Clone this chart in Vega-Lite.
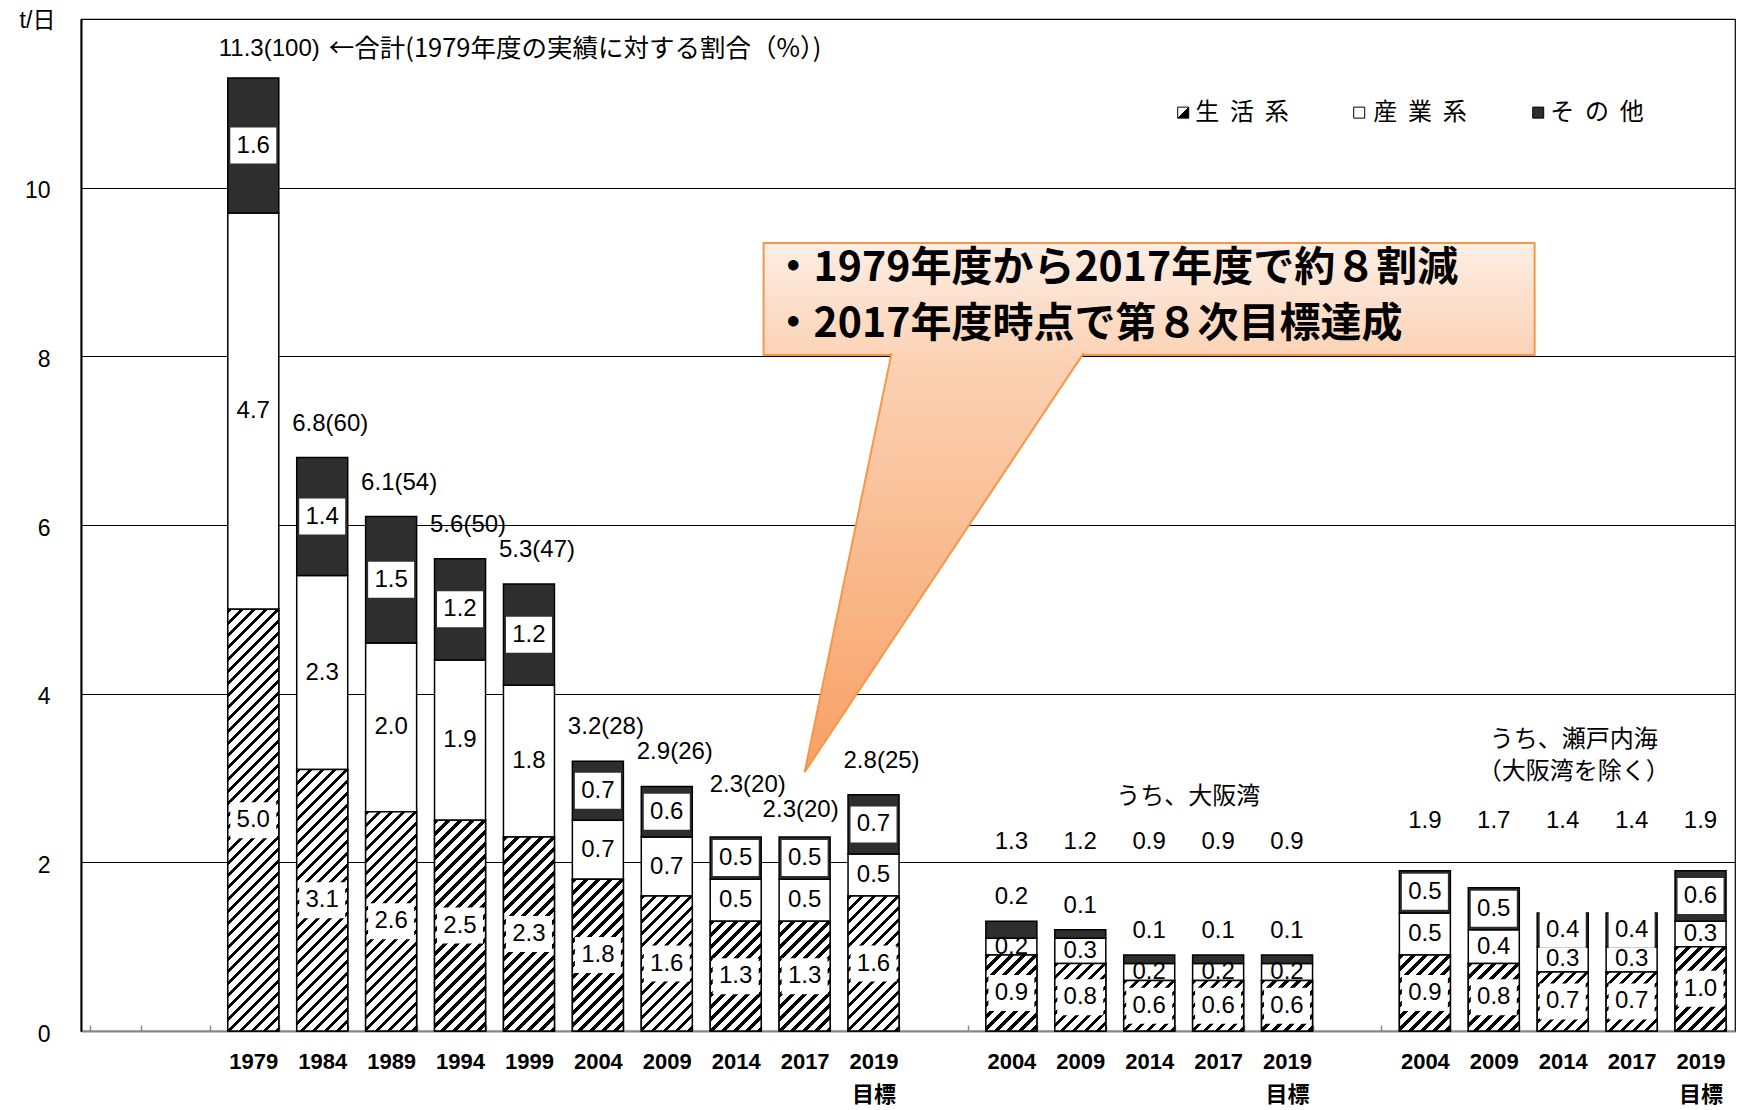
{
 "$schema": "https://vega.github.io/schema/vega-lite/v6.json",
 "width": 1654,
 "height": 1012,
 "autosize": {"type": "none"},
 "padding": {"left": 81, "top": 19, "right": 2, "bottom": 79},
 "background": "#ffffff",
 "config": {"view": {"stroke": "#000000", "strokeWidth": 1.2}},
 "params": [{"name": "hatch", "value": [
  {"offset":0,"color":"#000"},{"offset":0.0095,"color":"#000"},{"offset":0.0095,"color":"#fff"},{"offset":0.025,"color":"#fff"},
  {"offset":0.025,"color":"#000"},{"offset":0.0345,"color":"#000"},{"offset":0.0345,"color":"#fff"},{"offset":0.05,"color":"#fff"},
  {"offset":0.05,"color":"#000"},{"offset":0.0595,"color":"#000"},{"offset":0.0595,"color":"#fff"},{"offset":0.075,"color":"#fff"},
  {"offset":0.075,"color":"#000"},{"offset":0.0845,"color":"#000"},{"offset":0.0845,"color":"#fff"},{"offset":0.1,"color":"#fff"},
  {"offset":0.1,"color":"#000"},{"offset":0.1095,"color":"#000"},{"offset":0.1095,"color":"#fff"},{"offset":0.125,"color":"#fff"},
  {"offset":0.125,"color":"#000"},{"offset":0.1345,"color":"#000"},{"offset":0.1345,"color":"#fff"},{"offset":0.15,"color":"#fff"},
  {"offset":0.15,"color":"#000"},{"offset":0.1595,"color":"#000"},{"offset":0.1595,"color":"#fff"},{"offset":0.175,"color":"#fff"},
  {"offset":0.175,"color":"#000"},{"offset":0.1845,"color":"#000"},{"offset":0.1845,"color":"#fff"},{"offset":0.2,"color":"#fff"},
  {"offset":0.2,"color":"#000"},{"offset":0.2095,"color":"#000"},{"offset":0.2095,"color":"#fff"},{"offset":0.225,"color":"#fff"},
  {"offset":0.225,"color":"#000"},{"offset":0.2345,"color":"#000"},{"offset":0.2345,"color":"#fff"},{"offset":0.25,"color":"#fff"},
  {"offset":0.25,"color":"#000"},{"offset":0.2595,"color":"#000"},{"offset":0.2595,"color":"#fff"},{"offset":0.275,"color":"#fff"},
  {"offset":0.275,"color":"#000"},{"offset":0.2845,"color":"#000"},{"offset":0.2845,"color":"#fff"},{"offset":0.3,"color":"#fff"},
  {"offset":0.3,"color":"#000"},{"offset":0.3095,"color":"#000"},{"offset":0.3095,"color":"#fff"},{"offset":0.325,"color":"#fff"},
  {"offset":0.325,"color":"#000"},{"offset":0.3345,"color":"#000"},{"offset":0.3345,"color":"#fff"},{"offset":0.35,"color":"#fff"},
  {"offset":0.35,"color":"#000"},{"offset":0.3595,"color":"#000"},{"offset":0.3595,"color":"#fff"},{"offset":0.375,"color":"#fff"},
  {"offset":0.375,"color":"#000"},{"offset":0.3845,"color":"#000"},{"offset":0.3845,"color":"#fff"},{"offset":0.4,"color":"#fff"},
  {"offset":0.4,"color":"#000"},{"offset":0.4095,"color":"#000"},{"offset":0.4095,"color":"#fff"},{"offset":0.425,"color":"#fff"},
  {"offset":0.425,"color":"#000"},{"offset":0.4345,"color":"#000"},{"offset":0.4345,"color":"#fff"},{"offset":0.45,"color":"#fff"},
  {"offset":0.45,"color":"#000"},{"offset":0.4595,"color":"#000"},{"offset":0.4595,"color":"#fff"},{"offset":0.475,"color":"#fff"},
  {"offset":0.475,"color":"#000"},{"offset":0.4845,"color":"#000"},{"offset":0.4845,"color":"#fff"},{"offset":0.5,"color":"#fff"},
  {"offset":0.5,"color":"#000"},{"offset":0.5095,"color":"#000"},{"offset":0.5095,"color":"#fff"},{"offset":0.525,"color":"#fff"},
  {"offset":0.525,"color":"#000"},{"offset":0.5345,"color":"#000"},{"offset":0.5345,"color":"#fff"},{"offset":0.55,"color":"#fff"},
  {"offset":0.55,"color":"#000"},{"offset":0.5595,"color":"#000"},{"offset":0.5595,"color":"#fff"},{"offset":0.575,"color":"#fff"},
  {"offset":0.575,"color":"#000"},{"offset":0.5845,"color":"#000"},{"offset":0.5845,"color":"#fff"},{"offset":0.6,"color":"#fff"},
  {"offset":0.6,"color":"#000"},{"offset":0.6095,"color":"#000"},{"offset":0.6095,"color":"#fff"},{"offset":0.625,"color":"#fff"},
  {"offset":0.625,"color":"#000"},{"offset":0.6345,"color":"#000"},{"offset":0.6345,"color":"#fff"},{"offset":0.65,"color":"#fff"},
  {"offset":0.65,"color":"#000"},{"offset":0.6595,"color":"#000"},{"offset":0.6595,"color":"#fff"},{"offset":0.675,"color":"#fff"},
  {"offset":0.675,"color":"#000"},{"offset":0.6845,"color":"#000"},{"offset":0.6845,"color":"#fff"},{"offset":0.7,"color":"#fff"},
  {"offset":0.7,"color":"#000"},{"offset":0.7095,"color":"#000"},{"offset":0.7095,"color":"#fff"},{"offset":0.725,"color":"#fff"},
  {"offset":0.725,"color":"#000"},{"offset":0.7345,"color":"#000"},{"offset":0.7345,"color":"#fff"},{"offset":0.75,"color":"#fff"},
  {"offset":0.75,"color":"#000"},{"offset":0.7595,"color":"#000"},{"offset":0.7595,"color":"#fff"},{"offset":0.775,"color":"#fff"},
  {"offset":0.775,"color":"#000"},{"offset":0.7845,"color":"#000"},{"offset":0.7845,"color":"#fff"},{"offset":0.8,"color":"#fff"},
  {"offset":0.8,"color":"#000"},{"offset":0.8095,"color":"#000"},{"offset":0.8095,"color":"#fff"},{"offset":0.825,"color":"#fff"},
  {"offset":0.825,"color":"#000"},{"offset":0.8345,"color":"#000"},{"offset":0.8345,"color":"#fff"},{"offset":0.85,"color":"#fff"},
  {"offset":0.85,"color":"#000"},{"offset":0.8595,"color":"#000"},{"offset":0.8595,"color":"#fff"},{"offset":0.875,"color":"#fff"},
  {"offset":0.875,"color":"#000"},{"offset":0.8845,"color":"#000"},{"offset":0.8845,"color":"#fff"},{"offset":0.9,"color":"#fff"},
  {"offset":0.9,"color":"#000"},{"offset":0.9095,"color":"#000"},{"offset":0.9095,"color":"#fff"},{"offset":0.925,"color":"#fff"},
  {"offset":0.925,"color":"#000"},{"offset":0.9345,"color":"#000"},{"offset":0.9345,"color":"#fff"},{"offset":0.95,"color":"#fff"},
  {"offset":0.95,"color":"#000"},{"offset":0.9595,"color":"#000"},{"offset":0.9595,"color":"#fff"},{"offset":0.975,"color":"#fff"},
  {"offset":0.975,"color":"#000"},{"offset":0.9845,"color":"#000"},{"offset":0.9845,"color":"#fff"},{"offset":1,"color":"#fff"}
 ]}],
 "datasets": {
  "seg": [
   {"grp":"全体","slot":"全体1979","cat":"生活系","ord":1,"v":5.0},{"grp":"全体","slot":"全体1979","cat":"産業系","ord":2,"v":4.7},{"grp":"全体","slot":"全体1979","cat":"その他","ord":3,"v":1.6},
   {"grp":"全体","slot":"全体1984","cat":"生活系","ord":1,"v":3.1},{"grp":"全体","slot":"全体1984","cat":"産業系","ord":2,"v":2.3},{"grp":"全体","slot":"全体1984","cat":"その他","ord":3,"v":1.4},
   {"grp":"全体","slot":"全体1989","cat":"生活系","ord":1,"v":2.6},{"grp":"全体","slot":"全体1989","cat":"産業系","ord":2,"v":2.0},{"grp":"全体","slot":"全体1989","cat":"その他","ord":3,"v":1.5},
   {"grp":"全体","slot":"全体1994","cat":"生活系","ord":1,"v":2.5},{"grp":"全体","slot":"全体1994","cat":"産業系","ord":2,"v":1.9},{"grp":"全体","slot":"全体1994","cat":"その他","ord":3,"v":1.2},
   {"grp":"全体","slot":"全体1999","cat":"生活系","ord":1,"v":2.3},{"grp":"全体","slot":"全体1999","cat":"産業系","ord":2,"v":1.8},{"grp":"全体","slot":"全体1999","cat":"その他","ord":3,"v":1.2},
   {"grp":"全体","slot":"全体2004","cat":"生活系","ord":1,"v":1.8},{"grp":"全体","slot":"全体2004","cat":"産業系","ord":2,"v":0.7},{"grp":"全体","slot":"全体2004","cat":"その他","ord":3,"v":0.7},
   {"grp":"全体","slot":"全体2009","cat":"生活系","ord":1,"v":1.6},{"grp":"全体","slot":"全体2009","cat":"産業系","ord":2,"v":0.7},{"grp":"全体","slot":"全体2009","cat":"その他","ord":3,"v":0.6},
   {"grp":"全体","slot":"全体2014","cat":"生活系","ord":1,"v":1.3},{"grp":"全体","slot":"全体2014","cat":"産業系","ord":2,"v":0.5},{"grp":"全体","slot":"全体2014","cat":"その他","ord":3,"v":0.5},
   {"grp":"全体","slot":"全体2017","cat":"生活系","ord":1,"v":1.3},{"grp":"全体","slot":"全体2017","cat":"産業系","ord":2,"v":0.5},{"grp":"全体","slot":"全体2017","cat":"その他","ord":3,"v":0.5},
   {"grp":"全体","slot":"全体2019","cat":"生活系","ord":1,"v":1.6},{"grp":"全体","slot":"全体2019","cat":"産業系","ord":2,"v":0.5},{"grp":"全体","slot":"全体2019","cat":"その他","ord":3,"v":0.7},
   {"grp":"大阪湾","slot":"大阪湾2004","cat":"生活系","ord":1,"v":0.9},{"grp":"大阪湾","slot":"大阪湾2004","cat":"産業系","ord":2,"v":0.2},{"grp":"大阪湾","slot":"大阪湾2004","cat":"その他","ord":3,"v":0.2},
   {"grp":"大阪湾","slot":"大阪湾2009","cat":"生活系","ord":1,"v":0.8},{"grp":"大阪湾","slot":"大阪湾2009","cat":"産業系","ord":2,"v":0.3},{"grp":"大阪湾","slot":"大阪湾2009","cat":"その他","ord":3,"v":0.1},
   {"grp":"大阪湾","slot":"大阪湾2014","cat":"生活系","ord":1,"v":0.6},{"grp":"大阪湾","slot":"大阪湾2014","cat":"産業系","ord":2,"v":0.2},{"grp":"大阪湾","slot":"大阪湾2014","cat":"その他","ord":3,"v":0.1},
   {"grp":"大阪湾","slot":"大阪湾2017","cat":"生活系","ord":1,"v":0.6},{"grp":"大阪湾","slot":"大阪湾2017","cat":"産業系","ord":2,"v":0.2},{"grp":"大阪湾","slot":"大阪湾2017","cat":"その他","ord":3,"v":0.1},
   {"grp":"大阪湾","slot":"大阪湾2019","cat":"生活系","ord":1,"v":0.6},{"grp":"大阪湾","slot":"大阪湾2019","cat":"産業系","ord":2,"v":0.2},{"grp":"大阪湾","slot":"大阪湾2019","cat":"その他","ord":3,"v":0.1},
   {"grp":"瀬戸内海","slot":"瀬戸内海2004","cat":"生活系","ord":1,"v":0.9},{"grp":"瀬戸内海","slot":"瀬戸内海2004","cat":"産業系","ord":2,"v":0.5},{"grp":"瀬戸内海","slot":"瀬戸内海2004","cat":"その他","ord":3,"v":0.5},
   {"grp":"瀬戸内海","slot":"瀬戸内海2009","cat":"生活系","ord":1,"v":0.8},{"grp":"瀬戸内海","slot":"瀬戸内海2009","cat":"産業系","ord":2,"v":0.4},{"grp":"瀬戸内海","slot":"瀬戸内海2009","cat":"その他","ord":3,"v":0.5},
   {"grp":"瀬戸内海","slot":"瀬戸内海2014","cat":"生活系","ord":1,"v":0.7},{"grp":"瀬戸内海","slot":"瀬戸内海2014","cat":"産業系","ord":2,"v":0.3},{"grp":"瀬戸内海","slot":"瀬戸内海2014","cat":"その他","ord":3,"v":0.4},
   {"grp":"瀬戸内海","slot":"瀬戸内海2017","cat":"生活系","ord":1,"v":0.7},{"grp":"瀬戸内海","slot":"瀬戸内海2017","cat":"産業系","ord":2,"v":0.3},{"grp":"瀬戸内海","slot":"瀬戸内海2017","cat":"その他","ord":3,"v":0.4},
   {"grp":"瀬戸内海","slot":"瀬戸内海2019","cat":"生活系","ord":1,"v":1.0},{"grp":"瀬戸内海","slot":"瀬戸内海2019","cat":"産業系","ord":2,"v":0.3},{"grp":"瀬戸内海","slot":"瀬戸内海2019","cat":"その他","ord":3,"v":0.6}
  ],
  "tot": [
   {"grp":"全体","slot":"全体1979","total":11.3,"label":"11.3(100)"},
   {"grp":"全体","slot":"全体1984","total":6.8,"label":"6.8(60)"},
   {"grp":"全体","slot":"全体1989","total":6.1,"label":"6.1(54)"},
   {"grp":"全体","slot":"全体1994","total":5.6,"label":"5.6(50)"},
   {"grp":"全体","slot":"全体1999","total":5.3,"label":"5.3(47)"},
   {"grp":"全体","slot":"全体2004","total":3.2,"label":"3.2(28)"},
   {"grp":"全体","slot":"全体2009","total":2.9,"label":"2.9(26)"},
   {"grp":"全体","slot":"全体2014","total":2.3,"label":"2.3(20)"},
   {"grp":"全体","slot":"全体2017","total":2.3,"label":"2.3(20)"},
   {"grp":"全体","slot":"全体2019","total":2.8,"label":"2.8(25)"},
   {"grp":"大阪湾","slot":"大阪湾2004","total":1.3,"label":"1.3"},
   {"grp":"大阪湾","slot":"大阪湾2009","total":1.2,"label":"1.2"},
   {"grp":"大阪湾","slot":"大阪湾2014","total":0.9,"label":"0.9"},
   {"grp":"大阪湾","slot":"大阪湾2017","total":0.9,"label":"0.9"},
   {"grp":"大阪湾","slot":"大阪湾2019","total":0.9,"label":"0.9"},
   {"grp":"瀬戸内海","slot":"瀬戸内海2004","total":1.9,"label":"1.9"},
   {"grp":"瀬戸内海","slot":"瀬戸内海2009","total":1.7,"label":"1.7"},
   {"grp":"瀬戸内海","slot":"瀬戸内海2014","total":1.4,"label":"1.4"},
   {"grp":"瀬戸内海","slot":"瀬戸内海2017","total":1.4,"label":"1.4"},
   {"grp":"瀬戸内海","slot":"瀬戸内海2019","total":1.9,"label":"1.9"}
  ],
  "one": [{}]
 },
 "encoding": {
  "x": {"field": "slot", "type": "nominal",
   "scale": {"domain": ["空1","空2","全体1979","全体1984","全体1989","全体1994","全体1999","全体2004","全体2009","全体2014","全体2017","全体2019","空3","大阪湾2004","大阪湾2009","大阪湾2014","大阪湾2017","大阪湾2019","空4","瀬戸内海2004","瀬戸内海2009","瀬戸内海2014","瀬戸内海2017","瀬戸内海2019"], "paddingInner": 0.26, "paddingOuter": 0.13},
   "axis": {"title": null,
    "labelExpr": "({'全体1979':'1979','全体1984':'1984','全体1989':'1989','全体1994':'1994','全体1999':'1999','全体2004':'2004','全体2009':'2009','全体2014':'2014','全体2017':'2017','全体2019':['2019','目標'],'大阪湾2004':'2004','大阪湾2009':'2009','大阪湾2014':'2014','大阪湾2017':'2017','大阪湾2019':['2019','目標'],'瀬戸内海2004':'2004','瀬戸内海2009':'2009','瀬戸内海2014':'2014','瀬戸内海2017':'2017','瀬戸内海2019':['2019','目標']})[datum.value] || ''",
    "labelFont": "Liberation Sans, Noto Sans CJK JP", "labelFontWeight": "bold", "labelFontSize": 22, "labelColor": "#000", "labelPadding": 26, "labelLineHeight": 33, "labelAngle": 0, "labelOverlap": false,
    "tickBand": "extent", "tickSize": -6, "tickColor": "#888", "tickWidth": 1.5, "domainColor": "#888", "domainWidth": 2, "grid": false}
  }
 },
 "layer": [
  {
   "data": {"name": "seg"},
   "mark": {"type": "bar", "stroke": "#000", "strokeWidth": 1.5},
   "encoding": {
    "y": {"field": "v", "type": "quantitative", "stack": "zero", "scale": {"domain": [0, 12], "nice": false, "zero": false},
     "axis": {"title": "t/日", "titleAngle": 0, "titleX": -44, "titleY": 1, "titleAlign": "center", "titleBaseline": "middle", "titleFont": "Liberation Sans, Noto Sans CJK JP", "titleFontSize": 23, "titleFontWeight": "normal", "titleColor": "#000",
      "values": [0, 2, 4, 6, 8, 10], "format": "d", "labelFont": "Liberation Sans", "labelFontSize": 23, "labelColor": "#000", "labelPadding": 31, "labelOffset": 3, "ticks": false,
      "domainColor": "#000", "domainWidth": 2, "grid": true, "gridColor": "#000", "gridWidth": 1}},
    "order": {"field": "ord", "type": "quantitative"},
    "fill": {"field": "cat", "type": "nominal",
     "scale": {"domain": ["生活系", "産業系", "その他"], "range": ["#808080", "#ffffff", "#2e2e2e"]},
     "legend": null}
   }
  },
  {
   "data": {"name": "seg"},
   "transform": [{"filter": "datum.cat == '生活系'"}],
   "mark": {"type": "bar", "stroke": "#000", "strokeWidth": 1.5},
   "encoding": {
    "y": {"field": "v", "type": "quantitative", "stack": null, "scale": {"domain": [0, 12], "nice": false, "zero": false}},
    "fill": {"value": {"expr": "{gradient:'linear',x1:0,y1:0,x2:(width*0.74/24)*480/(pow(width*0.74/24,2)+pow(datum.v*height/12,2)),y2:(datum.v*height/12)*480/(pow(width*0.74/24,2)+pow(datum.v*height/12,2)),stops:hatch}"}}
   }
  },
  {
   "data": {"name": "seg"},
   "mark": {"type": "point", "shape": "M-23,-18H23V18H-23Z", "size": 4, "filled": true, "color": "#ffffff", "strokeWidth": 0},
   "encoding": {
    "y": {"field": "v", "type": "quantitative", "stack": "zero", "bandPosition": 0.5, "scale": {"domain": [0, 12], "nice": false, "zero": false}},
    "detail": {"field": "cat"},
    "order": {"field": "ord", "type": "quantitative"},
    "opacity": {"condition": {"test": "datum.cat == '産業系' || (datum.grp == '大阪湾' && datum.cat == 'その他')", "value": 0}, "value": 1}
   }
  },
  {
   "data": {"name": "seg"},
   "mark": {"type": "text", "font": "Liberation Sans", "fontSize": 24, "baseline": "middle", "color": "#000"},
   "encoding": {
    "y": {"field": "v", "type": "quantitative", "stack": "zero", "bandPosition": 0.5, "scale": {"domain": [0, 12], "nice": false, "zero": false}},
    "detail": {"field": "cat"},
    "order": {"field": "ord", "type": "quantitative"},
    "text": {"field": "v", "type": "quantitative", "format": ".1f"},
    "opacity": {"condition": {"test": "datum.grp == '大阪湾' && datum.cat == 'その他'", "value": 0}, "value": 1}
   }
  },
  {
   "data": {"name": "seg"},
   "mark": {"type": "text", "font": "Liberation Sans", "fontSize": 24, "baseline": "middle", "color": "#000", "dy": -24},
   "encoding": {
    "y": {"field": "v", "type": "quantitative", "stack": "zero", "scale": {"domain": [0, 12], "nice": false, "zero": false}},
    "detail": {"field": "cat"},
    "order": {"field": "ord", "type": "quantitative"},
    "text": {"field": "v", "type": "quantitative", "format": ".1f"},
    "opacity": {"condition": {"test": "datum.grp == '大阪湾' && datum.cat == 'その他'", "value": 1}, "value": 0}
   }
  },
  {
   "data": {"name": "tot"},
   "transform": [{"filter": "datum.grp == '全体' && datum.slot != '全体1979' && datum.slot != '全体2014' && datum.slot != '全体2017'"}],
   "mark": {"type": "text", "font": "Liberation Sans", "fontSize": 24, "baseline": "middle", "color": "#000", "dy": -34, "dx": 8},
   "encoding": {"y": {"field": "total", "type": "quantitative", "scale": {"domain": [0, 12], "nice": false, "zero": false}}, "text": {"field": "label"}}
  },
  {
   "data": {"name": "tot"},
   "transform": [{"filter": "datum.slot == '全体2014'"}],
   "mark": {"type": "text", "font": "Liberation Sans", "fontSize": 24, "baseline": "middle", "color": "#000", "dy": -52, "dx": 12},
   "encoding": {"y": {"field": "total", "type": "quantitative", "scale": {"domain": [0, 12], "nice": false, "zero": false}}, "text": {"field": "label"}}
  },
  {
   "data": {"name": "tot"},
   "transform": [{"filter": "datum.slot == '全体2017'"}],
   "mark": {"type": "text", "font": "Liberation Sans", "fontSize": 24, "baseline": "middle", "color": "#000", "dy": -27, "dx": -4},
   "encoding": {"y": {"field": "total", "type": "quantitative", "scale": {"domain": [0, 12], "nice": false, "zero": false}}, "text": {"field": "label"}}
  },
  {
   "data": {"name": "tot"},
   "transform": [{"filter": "datum.slot == '全体1979'"}],
   "mark": {"type": "text", "font": "Liberation Sans", "fontSize": 24, "baseline": "middle", "align": "left", "color": "#000", "dy": -29, "dx": -9},
   "encoding": {"x": {"field": "slot", "type": "nominal", "bandPosition": 0}, "y": {"field": "total", "type": "quantitative", "scale": {"domain": [0, 12], "nice": false, "zero": false}}, "text": {"field": "label"}}
  },
  {
   "data": {"name": "tot"},
   "transform": [{"filter": "datum.slot == '全体1979'"}],
   "mark": {"type": "text", "font": "Noto Sans CJK JP", "fontSize": 25.5, "baseline": "middle", "align": "left", "color": "#000", "dy": -29, "dx": 101},
   "encoding": {"x": {"field": "slot", "type": "nominal", "bandPosition": 0}, "y": {"field": "total", "type": "quantitative", "scale": {"domain": [0, 12], "nice": false, "zero": false}}, "text": {"value": "←合計(1979年度の実績に対する割合（%）)"}}
  },
  {
   "data": {"name": "tot"},
   "transform": [{"filter": "datum.grp == '大阪湾'"}],
   "mark": {"type": "text", "font": "Liberation Sans", "fontSize": 24, "baseline": "middle", "color": "#000"},
   "encoding": {"y": {"datum": 2.24, "type": "quantitative", "scale": {"domain": [0, 12], "nice": false, "zero": false}}, "text": {"field": "label"}}
  },
  {
   "data": {"name": "tot"},
   "transform": [{"filter": "datum.grp == '瀬戸内海'"}],
   "mark": {"type": "text", "font": "Liberation Sans", "fontSize": 24, "baseline": "middle", "color": "#000"},
   "encoding": {"y": {"datum": 2.49, "type": "quantitative", "scale": {"domain": [0, 12], "nice": false, "zero": false}}, "text": {"field": "label"}}
  },
  {
   "data": {"name": "one"},
   "mark": {"type": "text", "font": "Noto Sans CJK JP", "fontSize": 24, "baseline": "middle", "color": "#000", "dx": 39},
   "encoding": {"x": {"datum": "大阪湾2014", "type": "nominal"}, "y": {"datum": 2.77, "type": "quantitative", "scale": {"domain": [0, 12], "nice": false, "zero": false}}, "text": {"value": "うち、大阪湾"}}
  },
  {
   "data": {"name": "one"},
   "mark": {"type": "text", "font": "Noto Sans CJK JP", "fontSize": 24, "baseline": "alphabetic", "lineHeight": 32, "color": "#000", "dx": 11},
   "encoding": {"x": {"datum": "瀬戸内海2014", "type": "nominal"}, "y": {"datum": 3.37, "type": "quantitative", "scale": {"domain": [0, 12], "nice": false, "zero": false}}, "text": {"value": ["うち、瀬戸内海", "（大阪湾を除く）"]}}
  },
  {
   "data": {"name": "one"},
   "mark": {"type": "point", "shape": "M28.5,-5.5H39.5V5.5H28.5Z", "size": 4, "filled": true, "opacity": 1, "stroke": "#000", "strokeWidth": 1,
    "fill": {"gradient": "linear", "x1": 0, "y1": 0, "x2": 1, "y2": 1, "stops": [{"offset": 0, "color": "#fff"}, {"offset": 0.5, "color": "#fff"}, {"offset": 0.5, "color": "#000"}, {"offset": 1, "color": "#000"}]}},
   "encoding": {"x": {"datum": "大阪湾2014", "type": "nominal"}, "y": {"datum": 10.89, "type": "quantitative", "scale": {"domain": [0, 12], "nice": false, "zero": false}}}
  },
  {
   "data": {"name": "one"},
   "mark": {"type": "point", "shape": "M204.5,-5.5H215.5V5.5H204.5Z", "size": 4, "filled": true, "opacity": 1, "stroke": "#000", "strokeWidth": 1, "fill": "#ffffff"},
   "encoding": {"x": {"datum": "大阪湾2014", "type": "nominal"}, "y": {"datum": 10.89, "type": "quantitative", "scale": {"domain": [0, 12], "nice": false, "zero": false}}}
  },
  {
   "data": {"name": "one"},
   "mark": {"type": "point", "shape": "M383.5,-5.5H394.5V5.5H383.5Z", "size": 4, "filled": true, "opacity": 1, "stroke": "#000", "strokeWidth": 1, "fill": "#2e2e2e"},
   "encoding": {"x": {"datum": "大阪湾2014", "type": "nominal"}, "y": {"datum": 10.89, "type": "quantitative", "scale": {"domain": [0, 12], "nice": false, "zero": false}}}
  },
  {
   "data": {"name": "one"},
   "mark": {"type": "text", "font": "Noto Sans CJK JP", "fontSize": 24, "align": "left", "baseline": "middle", "color": "#000", "dx": 46},
   "encoding": {"x": {"datum": "大阪湾2014", "type": "nominal"}, "y": {"datum": 10.89, "type": "quantitative", "scale": {"domain": [0, 12], "nice": false, "zero": false}}, "text": {"value": "生\u00a0\u00a0活\u00a0\u00a0系"}}
  },
  {
   "data": {"name": "one"},
   "mark": {"type": "text", "font": "Noto Sans CJK JP", "fontSize": 24, "align": "left", "baseline": "middle", "color": "#000", "dx": 224},
   "encoding": {"x": {"datum": "大阪湾2014", "type": "nominal"}, "y": {"datum": 10.89, "type": "quantitative", "scale": {"domain": [0, 12], "nice": false, "zero": false}}, "text": {"value": "産\u00a0\u00a0業\u00a0\u00a0系"}}
  },
  {
   "data": {"name": "one"},
   "mark": {"type": "text", "font": "Noto Sans CJK JP", "fontSize": 24, "align": "left", "baseline": "middle", "color": "#000", "dx": 401},
   "encoding": {"x": {"datum": "大阪湾2014", "type": "nominal"}, "y": {"datum": 10.89, "type": "quantitative", "scale": {"domain": [0, 12], "nice": false, "zero": false}}, "text": {"value": "そ\u00a0\u00a0の\u00a0\u00a0他"}}
  },
  {
   "data": {"name": "one"},
   "mark": {"type": "point", "shape": "M-41,-529H730V-417H-41Z", "size": 4, "filled": true, "opacity": 1, "stroke": "#f79646", "strokeWidth": 2,
    "fill": {"gradient": "linear", "x1": 0, "y1": 0, "x2": 0, "y2": 1, "stops": [{"offset": 0, "color": "#fdeee4"}, {"offset": 1, "color": "#fbd3b6"}]}},
   "encoding": {"x": {"datum": "全体2017", "type": "nominal"}, "y": {"datum": 3.07, "type": "quantitative", "scale": {"domain": [0, 12], "nice": false, "zero": false}}}
  },
  {
   "data": {"name": "one"},
   "mark": {"type": "point", "shape": "M87,-419L0,0L279,-419", "size": 4, "filled": true, "opacity": 1, "stroke": "#f79646", "strokeWidth": 2,
    "fill": {"gradient": "linear", "x1": 0, "y1": 0, "x2": 0, "y2": 1, "stops": [{"offset": 0, "color": "#fbd3b6"}, {"offset": 1, "color": "#f7a064"}]}},
   "encoding": {"x": {"datum": "全体2017", "type": "nominal"}, "y": {"datum": 3.07, "type": "quantitative", "scale": {"domain": [0, 12], "nice": false, "zero": false}}}
  },
  {
   "data": {"name": "one"},
   "mark": {"type": "text", "font": "Noto Sans CJK JP", "fontSize": 41, "fontWeight": "bold", "align": "left", "baseline": "alphabetic", "color": "#000", "dx": -32},
   "encoding": {"x": {"datum": "全体2017", "type": "nominal"}, "y": {"datum": 8.89, "type": "quantitative", "scale": {"domain": [0, 12], "nice": false, "zero": false}}, "text": {"value": "・1979年度から2017年度で約８割減"}}
  },
  {
   "data": {"name": "one"},
   "mark": {"type": "text", "font": "Noto Sans CJK JP", "fontSize": 41, "fontWeight": "bold", "align": "left", "baseline": "alphabetic", "color": "#000", "dx": -32},
   "encoding": {"x": {"datum": "全体2017", "type": "nominal"}, "y": {"datum": 8.23, "type": "quantitative", "scale": {"domain": [0, 12], "nice": false, "zero": false}}, "text": {"value": "・2017年度時点で第８次目標達成"}}
  }
 ]
}
